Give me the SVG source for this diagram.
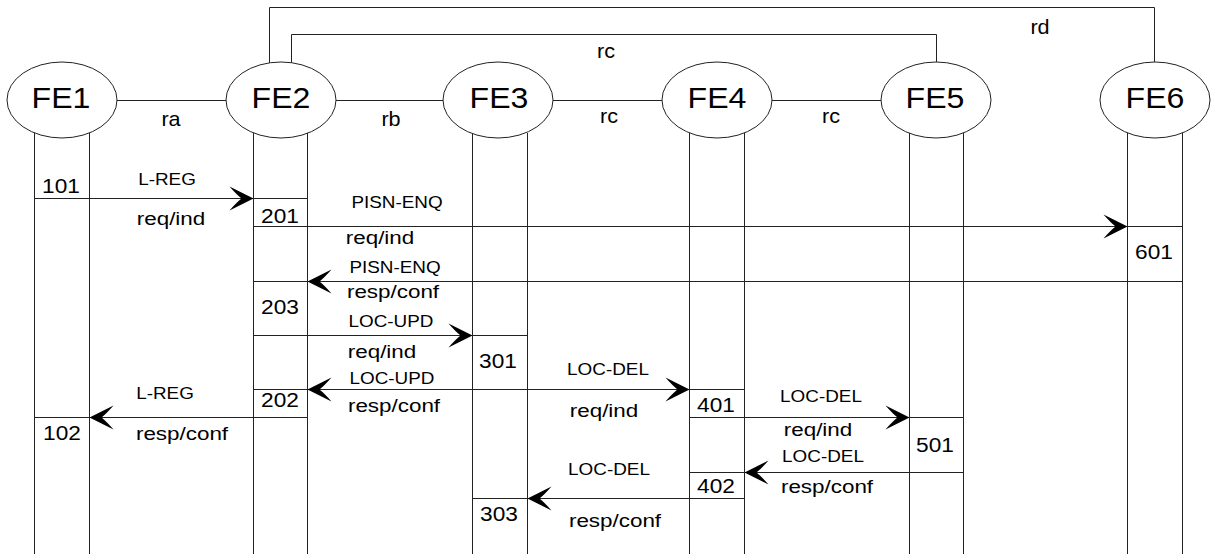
<svg xmlns="http://www.w3.org/2000/svg" width="1211" height="554" viewBox="0 0 1211 554">
  <style>
    .node ellipse { fill: #fff; stroke: #222; stroke-width: 1; }
    .life { fill: none; stroke: #222; stroke-width: 1; }
    .link { fill: none; stroke: #222; stroke-width: 1; }
    .msg { fill: none; stroke: #222; stroke-width: 1; marker-mid: url(#ah); }
    text { font-family: "Liberation Sans", Arial, sans-serif; fill: #000; text-anchor: middle; }
    .fe { font-size: 30px; }
    .num { font-size: 21px; }
    .name { font-size: 16px; }
    .prim { font-size: 19px; }
    .ref { font-size: 20px; }
  </style>
  <defs>
    <!-- barbed arrowhead, tip at the origin, pointing along +x -->
    <marker id="ah" markerUnits="userSpaceOnUse" viewBox="-26 -13 28 26" refX="0" refY="0" markerWidth="28" markerHeight="26" orient="auto">
      <path d="M0 0 L-24 -12 Q-17 -4 -12 0 Q-17 4 -24 12 Z" fill="#000"/>
    </marker>
  </defs>

  <rect width="1211" height="554" fill="#fff"/>

  <!-- relationships between functional entities -->
  <g id="connectors">
    <g id="link-ra">
      <path class="link" d="M117 100.5 H226"/>
      <text class="ref" transform="translate(171 126) scale(1.08 1)">ra</text>
    </g>
    <g id="link-rb">
      <path class="link" d="M336 100.5 H443"/>
      <text class="ref" transform="translate(391 126) scale(1.08 1)">rb</text>
    </g>
    <g id="link-rc-34">
      <path class="link" d="M553 100.5 H662"/>
      <text class="ref" transform="translate(609 123) scale(1.08 1)">rc</text>
    </g>
    <g id="link-rc-45">
      <path class="link" d="M772 100.5 H881"/>
      <text class="ref" transform="translate(831 123) scale(1.08 1)">rc</text>
    </g>
    <g id="link-rd-26">
      <path class="link" d="M269.5 63 V7.5 H1154.5 V62"/>
      <text class="ref" transform="translate(1040 34) scale(1.08 1)">rd</text>
    </g>
    <g id="link-rc-25">
      <path class="link" d="M291.5 63 V34.5 H936.5 V62"/>
      <text class="ref" transform="translate(606 58) scale(1.08 1)">rc</text>
    </g>

    <!-- information flows -->
    <g id="flow-lreg-req">
      <path class="msg" d="M34.5 198.5 H253.5 H307.5"/>
      <text class="name" transform="translate(167 185) scale(1.18 1)">L-REG</text>
      <text class="prim" transform="translate(171 225) scale(1.18 1)">req/ind</text>
    </g>
    <g id="flow-pisn-req">
      <path class="msg" d="M253.5 226.5 H1127.5 H1182.5"/>
      <text class="name" transform="translate(397 208) scale(1.18 1)">PISN-ENQ</text>
      <text class="prim" transform="translate(380 244) scale(1.18 1)">req/ind</text>
    </g>
    <g id="flow-pisn-resp">
      <path class="msg" d="M1182.5 281.5 H307.5 H253.5"/>
      <text class="name" transform="translate(395 273) scale(1.18 1)">PISN-ENQ</text>
      <text class="prim" transform="translate(393 298) scale(1.18 1)">resp/conf</text>
    </g>
    <g id="flow-locupd-req">
      <path class="msg" d="M253.5 335.5 H472.5 H527.5"/>
      <text class="name" transform="translate(391 327) scale(1.18 1)">LOC-UPD</text>
      <text class="prim" transform="translate(382 358) scale(1.18 1)">req/ind</text>
    </g>
    <g id="flow-locupd-resp">
      <path class="msg" d="M527.5 389.5 H307.5 H253.5"/>
      <text class="name" transform="translate(392 384) scale(1.18 1)">LOC-UPD</text>
      <text class="prim" transform="translate(394 412) scale(1.18 1)">resp/conf</text>
    </g>
    <g id="flow-locdel-req-34">
      <path class="msg" d="M472.5 389.5 H689.5 H744.5"/>
      <text class="name" transform="translate(608 375) scale(1.18 1)">LOC-DEL</text>
      <text class="prim" transform="translate(604 417) scale(1.18 1)">req/ind</text>
    </g>
    <g id="flow-lreg-resp">
      <path class="msg" d="M307.5 417.5 H89.5 H34.5"/>
      <text class="name" transform="translate(165 399) scale(1.18 1)">L-REG</text>
      <text class="prim" transform="translate(182 440) scale(1.18 1)">resp/conf</text>
    </g>
    <g id="flow-locdel-req-45">
      <path class="msg" d="M689.5 417.5 H909.5 H963.5"/>
      <text class="name" transform="translate(821 402) scale(1.18 1)">LOC-DEL</text>
      <text class="prim" transform="translate(818 436) scale(1.18 1)">req/ind</text>
    </g>
    <g id="flow-locdel-resp-54">
      <path class="msg" d="M963.5 472.5 H744.5 H689.5"/>
      <text class="name" transform="translate(823 462) scale(1.18 1)">LOC-DEL</text>
      <text class="prim" transform="translate(827 493) scale(1.18 1)">resp/conf</text>
    </g>
    <g id="flow-locdel-resp-43">
      <path class="msg" d="M744.5 498.5 H527.5 H472.5"/>
      <text class="name" transform="translate(609 475) scale(1.18 1)">LOC-DEL</text>
      <text class="prim" transform="translate(615 527) scale(1.18 1)">resp/conf</text>
    </g>
  </g>

  <!-- functional entities with their columns and action numbers -->
  <g id="FE1" class="node">
    <path class="life" d="M34.5 133 V554 M89.5 133 V554"/>
    <ellipse cx="62" cy="100" rx="55" ry="38"/>
    <text class="fe" transform="translate(61 108) scale(1.07 1)">FE1</text>
    <text class="num" transform="translate(61 193) scale(1.08 1)">101</text>
    <text class="num" transform="translate(62 440) scale(1.08 1)">102</text>
  </g>
  <g id="FE2" class="node">
    <path class="life" d="M253.5 133 V554 M307.5 133 V554"/>
    <ellipse cx="281" cy="100" rx="55" ry="38"/>
    <text class="fe" transform="translate(281 108) scale(1.07 1)">FE2</text>
    <text class="num" transform="translate(280 223) scale(1.08 1)">201</text>
    <text class="num" transform="translate(280 314) scale(1.08 1)">203</text>
    <text class="num" transform="translate(280 407) scale(1.08 1)">202</text>
  </g>
  <g id="FE3" class="node">
    <path class="life" d="M472.5 133 V554 M527.5 133 V554"/>
    <ellipse cx="498" cy="100" rx="55" ry="38"/>
    <text class="fe" transform="translate(499 108) scale(1.07 1)">FE3</text>
    <text class="num" transform="translate(498 368) scale(1.08 1)">301</text>
    <text class="num" transform="translate(499 521) scale(1.08 1)">303</text>
  </g>
  <g id="FE4" class="node">
    <path class="life" d="M689.5 133 V554 M744.5 133 V554"/>
    <ellipse cx="717" cy="100" rx="55" ry="38"/>
    <text class="fe" transform="translate(717 108) scale(1.07 1)">FE4</text>
    <text class="num" transform="translate(716 412) scale(1.08 1)">401</text>
    <text class="num" transform="translate(716 493) scale(1.08 1)">402</text>
  </g>
  <g id="FE5" class="node">
    <path class="life" d="M909.5 133 V554 M963.5 133 V554"/>
    <ellipse cx="936" cy="100" rx="55" ry="38"/>
    <text class="fe" transform="translate(935 108) scale(1.07 1)">FE5</text>
    <text class="num" transform="translate(935 452) scale(1.08 1)">501</text>
  </g>
  <g id="FE6" class="node">
    <path class="life" d="M1127.5 133 V554 M1182.5 133 V554"/>
    <ellipse cx="1155" cy="100" rx="55" ry="38"/>
    <text class="fe" transform="translate(1155 108) scale(1.07 1)">FE6</text>
    <text class="num" transform="translate(1154 259) scale(1.08 1)">601</text>
  </g>
</svg>
